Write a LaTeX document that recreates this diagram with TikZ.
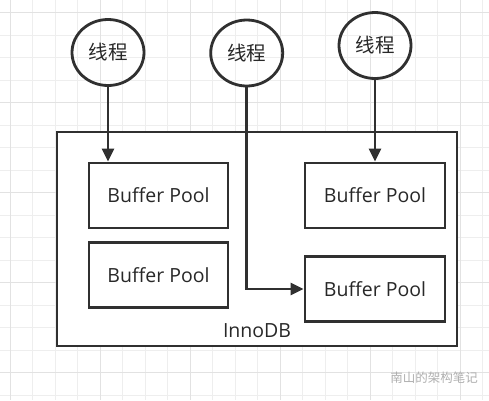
\documentclass[tikz,border=0pt]{standalone}
\usepackage{fontspec}
\setmainfont{Open Sans}
\newfontfamily\cjk{Noto Sans CJK SC}
\definecolor{linegray}{RGB}{48,48,48}
\definecolor{textgray}{RGB}{40,40,40}
\definecolor{gridgray}{RGB}{238,238,238}
\definecolor{gridbold}{RGB}{226,226,226}
\definecolor{marklight}{RGB}{175,175,175}
\usetikzlibrary{arrows.meta,positioning,shapes.geometric}
\tikzset{
  pool/.style={draw=linegray,line width=2.8pt,minimum width=139pt,minimum height=65pt,
               text=textgray,font=\fontsize{19.5}{19.5}\selectfont},
  thread/.style={ellipse,draw=linegray,line width=2.8pt,minimum width=72pt,minimum height=66pt,
                 text=textgray,font=\fontsize{19.5}{19.5}\selectfont\cjk},
  link/.style={draw=linegray,line width=2.8pt,-{Triangle[length=13pt,width=12pt]}}
}
\begin{document}
\begin{tikzpicture}[x=1pt,y=-1pt]
  \useasboundingbox (0,0) rectangle (489,400);
  \fill[white] (0,0) rectangle (489,400);
  % background grid
  \foreach \gx in {10,32.5,...,489} \draw[gridgray,line width=0.8pt] (\gx,0) -- (\gx,400);
  \foreach \gy in {12.5,35,...,400} \draw[gridgray,line width=0.8pt] (0,\gy) -- (489,\gy);
  \foreach \gx in {10,100,...,489} \draw[gridbold,line width=0.8pt] (\gx,0) -- (\gx,400);
  \foreach \gy in {12.5,102.5,...,400} \draw[gridbold,line width=0.8pt] (0,\gy) -- (489,\gy);

  % engine box
  \node[draw=linegray,line width=2.8pt,fill=white,minimum width=400pt,minimum height=214pt] (innodb) at (257,239) {};
  \node[text=textgray,font=\fontsize{19.5}{19.5}\selectfont] (innodbname) at (257,331) {InnoDB};

  % buffer pools
  \node[pool] (poolA) at (158.5,195.5) {Buffer Pool};
  \node[pool,below=12pt of poolA] (poolB) {Buffer Pool};
  \node[pool,minimum width=140pt] (poolC) at (375,195.5) {Buffer Pool};
  \node[pool,minimum width=140pt] (poolD) at (375,289) {Buffer Pool};

  % threads
  \node[thread] (threadA) at (108,52.5) {线程};
  \node[thread] (threadB) at (246.7,53) {线程};
  \node[thread] (threadC) at (375,45.5) {线程};

  \draw[link] (threadA.south) -- (threadA.south |- poolA.north);
  \draw[link] (threadB.south) |- (poolD.west);
  \draw[link] (threadC.south) -- (poolC.north);

  \node[font=\fontsize{12.5}{12.5}\selectfont\cjk,text=marklight] (mark) at (434,378) {南山的架构笔记};
\end{tikzpicture}
\end{document}
